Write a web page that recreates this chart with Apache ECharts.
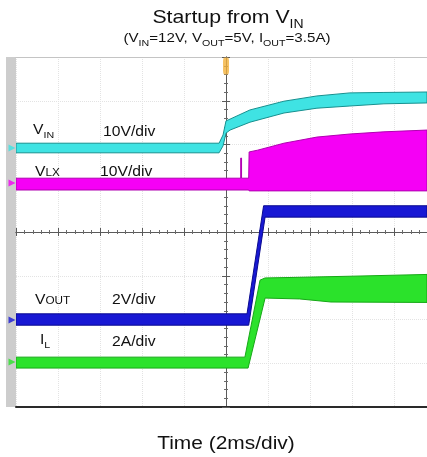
<!DOCTYPE html>
<html><head><meta charset="utf-8">
<script src="https://cdn.jsdelivr.net/npm/echarts@6/dist/echarts.min.js"></script>
<style>html,body{margin:0;padding:0;background:#fff}#c{width:427px;height:457px}</style>
</head><body><div id="c"></div>
<script>
// ---- Data (time in ms relative to trigger, amplitude in screen divisions) ----
const timeRange = [-10, 9.57];
const timeStep = 2;            // 2 ms/div
const divRange = [-4, 4];
const triggerTime = 0;

const vinUpper = [[-10, 2.03], [-0.33, 2.03], [-0.14, 2.22], [0, 2.54], [0.19, 2.58], [1.14, 2.79], [2.76, 2.99], [4.33, 3.11], [5.90, 3.18], [7.52, 3.19], [9.57, 3.20]];
const vinLower = [[-10, 1.81], [-0.33, 1.81], [-0.14, 1.97], [0, 2.26], [0.19, 2.33], [1.14, 2.51], [2.76, 2.72], [4.33, 2.83], [5.90, 2.88], [7.52, 2.93], [9.57, 2.95]];

const vlxUpper = [[-10, 1.23], [0.70, 1.23], [0.70, 1.69], [0.74, 1.69], [0.74, 1.23], [1.08, 1.23], [1.10, 1.83], [1.50, 1.87], [2.76, 2.03], [4.33, 2.17], [5.90, 2.24], [7.52, 2.29], [9.57, 2.33]];
const vlxLower = [[-10, 0.96], [1.08, 0.96], [1.10, 0.94], [9.57, 0.94]];

const voutUpper = [[-10, -1.87], [1.00, -1.87], [1.79, 0.60], [9.57, 0.60]];
const voutLower = [[-10, -2.13], [1.08, -2.13], [1.86, 0.34], [9.57, 0.34]];

const ilUpper = [[-10, -2.86], [0.90, -2.86], [1.62, -1.10], [1.86, -1.05], [3.00, -1.04], [6.00, -1.01], [9.57, -0.97]];
const ilLower = [[-10, -3.11], [1.05, -3.11], [1.86, -1.51], [3.50, -1.53], [5.00, -1.60], [9.57, -1.61]];

const groundLevels = [1.92, 1.12, -2.01, -2.97];
const channelNames = ['VIN', 'VLX', 'VOUT', 'IL'];

// ---- Styles ----
const FONT = 'Liberation Sans, Arial, Helvetica, sans-serif';
const SX = 1.12;
const colors = {
  vin: ['#3fe3e3', '#17908f'],
  vlx: ['#f500f5', '#b000b0'],
  vout: ['#1818d4', '#0a0a90'],
  il: ['#2be22b', '#16a816']
};

function band(name, upper, lower, c, z) {
  return {
    type: 'custom', name: name, coordinateSystem: 'cartesian2d',
    xAxisIndex: 0, yAxisIndex: 0, clip: true, silent: true, z: z,
    data: [[upper[0][0], upper[0][1]]],
    renderItem: function (params, api) {
      const pts = upper.map(p => api.coord(p))
        .concat(lower.slice().reverse().map(p => api.coord(p)));
      return { type: 'polygon', shape: { points: pts },
        style: { fill: c[0], stroke: c[1], lineWidth: 1 } };
    }
  };
}

function richLabel(x, y, text, main, sub, opts) {
  opts = opts || {};
  const subDrop = opts.subDrop == null ? 3 : opts.subDrop;
  return {
    type: 'text', x: x, y: y, scaleX: SX, z: 100, silent: true,
    style: {
      text: text, align: opts.align || 'left', verticalAlign: 'middle',
      rich: {
        a: { fontSize: main, fontFamily: FONT, fill: '#111', verticalAlign: 'bottom', padding: [0, 0, subDrop, 0] },
        b: { fontSize: sub, fontFamily: FONT, fill: '#111', verticalAlign: 'bottom' }
      }
    }
  };
}

const chart = echarts.init(document.getElementById('c'));

const hiddenLabel = { show: false };
const gridLine = { show: true, lineStyle: { color: '#e3e3e3', type: 'dotted', width: 1 } };
const option = {
  animation: false,
  backgroundColor: '#ffffff',
  grid: { left: 16, right: 0, top: 57, bottom: 50, show: true, backgroundColor: '#ffffff', borderWidth: 0 },
  xAxis: [
    { type: 'value', min: timeRange[0], max: timeRange[1], interval: timeStep, position: 'bottom',
      axisLine: { onZero: true, onZeroAxisIndex: 0, lineStyle: { color: '#5a5a5a', width: 1 } },
      axisTick: { show: true, length: 4, lineStyle: { color: '#5a5a5a' } },
      minorTick: { show: true, splitNumber: 5, length: 2, lineStyle: { color: '#6a6a6a' } },
      axisLabel: hiddenLabel, splitLine: gridLine },
    { type: 'value', min: timeRange[0], max: timeRange[1], interval: timeStep, position: 'top',
      axisLine: { onZero: true, onZeroAxisIndex: 1, lineStyle: { color: '#5a5a5a', width: 1 } },
      axisTick: { show: true, length: 4, lineStyle: { color: '#5a5a5a' } },
      minorTick: { show: true, splitNumber: 5, length: 2, lineStyle: { color: '#6a6a6a' } },
      axisLabel: hiddenLabel, splitLine: { show: false } },
    { type: 'value', min: timeRange[0], max: timeRange[1], interval: timeStep, position: 'bottom',
      axisLine: { onZero: false, lineStyle: { color: '#2a2a2a', width: 2 } },
      axisTick: { show: false }, axisLabel: hiddenLabel, splitLine: { show: false } },
    { type: 'value', min: timeRange[0], max: timeRange[1], interval: timeStep, position: 'top',
      axisLine: { onZero: false, lineStyle: { color: '#c4c4c4', width: 1 } },
      axisTick: { show: false }, axisLabel: hiddenLabel, splitLine: { show: false } }
  ],
  yAxis: [
    { type: 'value', min: divRange[0], max: divRange[1], interval: 1, position: 'left',
      axisLine: { show: true, onZero: true, onZeroAxisIndex: 0, lineStyle: { color: '#5a5a5a', width: 1 } },
      axisTick: { show: true, length: 4, lineStyle: { color: '#5a5a5a' } },
      minorTick: { show: true, splitNumber: 5, length: 2, lineStyle: { color: '#6a6a6a' } },
      axisLabel: hiddenLabel, splitLine: gridLine },
    { type: 'value', min: divRange[0], max: divRange[1], interval: 1, position: 'right',
      axisLine: { show: true, onZero: true, onZeroAxisIndex: 1, lineStyle: { color: '#5a5a5a', width: 1 } },
      axisTick: { show: true, length: 4, lineStyle: { color: '#5a5a5a' } },
      minorTick: { show: true, splitNumber: 5, length: 2, lineStyle: { color: '#6a6a6a' } },
      axisLabel: hiddenLabel, splitLine: { show: false } },
    { type: 'value', min: divRange[0], max: divRange[1], interval: 1, position: 'left', offset: 5,
      axisLine: { show: true, onZero: false, lineStyle: { color: '#cdcdcd', width: 10, cap: 'butt' } },
      axisTick: { show: false }, axisLabel: hiddenLabel, splitLine: { show: false } }
  ],
  series: [
    band('VIN', vinUpper, vinLower, colors.vin, 3),
    band('VLX', vlxUpper, vlxLower, colors.vlx, 3),
    band('IL', ilUpper, ilLower, colors.il, 3),
    band('VOUT', voutUpper, voutLower, colors.vout, 4),
    { type: 'scatter', name: 'ground', xAxisIndex: 0, yAxisIndex: 0, clip: false, silent: true, z: 5,
      data: groundLevels.map((v, i) => ({ value: [timeRange[0], v],
        itemStyle: { color: [colors.vin, colors.vlx, colors.vout, colors.il][i][0] } })),
      symbol: 'triangle', symbolRotate: -90, symbolSize: [7, 7], symbolOffset: [-4, 0] },
    { type: 'scatter', name: 'trigger', xAxisIndex: 0, yAxisIndex: 0, clip: false, silent: true, z: 6,
      data: [[triggerTime, divRange[1]]],
      symbol: 'roundRect', symbolSize: [6, 17], symbolOffset: [0, 9],
      itemStyle: { color: '#f2b13c' } }
  ],
  graphic: [
    richLabel(228, 20, '{a|Startup from V}{b|IN}', 19, 12.5, { align: 'center', subDrop: 4 }),
    richLabel(227, 40, '{a|(V}{b|IN}{a|=12V, V}{b|OUT}{a|=5V, I}{b|OUT}{a|=3.5A)}', 13.5, 9.5, { align: 'center', subDrop: 3 }),
    richLabel(33, 132, '{a|V}{b|IN}', 14, 9.5, { subDrop: 3 }),
    richLabel(103, 132, '{a|10V/div}', 14, 9.5, { subDrop: 0 }),
    richLabel(35, 172, '{a|V}{b|LX}', 14, 10.5, { subDrop: 0 }),
    richLabel(100, 172, '{a|10V/div}', 14, 9.5, { subDrop: 0 }),
    richLabel(35, 300, '{a|V}{b|OUT}', 14, 10.5, { subDrop: 0 }),
    richLabel(112, 300, '{a|2V/div}', 14, 9.5, { subDrop: 0 }),
    richLabel(40, 342, '{a|I}{b|L}', 14, 9.5, { subDrop: 3 }),
    richLabel(112, 342, '{a|2A/div}', 14, 9.5, { subDrop: 0 }),
    richLabel(226, 444, '{a|Time (2ms/div)}', 18.7, 12, { align: 'center', subDrop: 0 })
  ]
};
chart.setOption(option);
</script>
</body></html>
